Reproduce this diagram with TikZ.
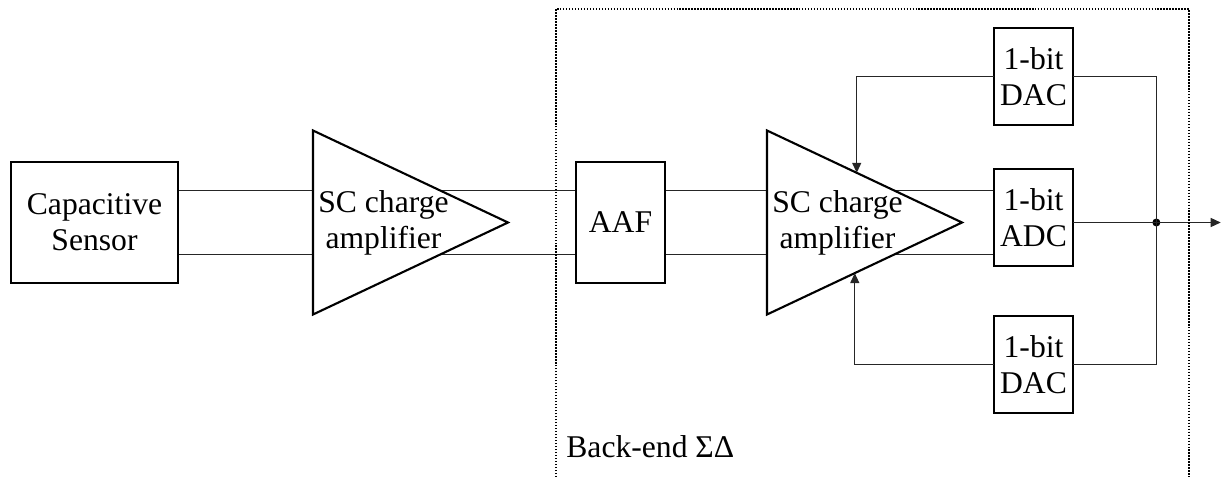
\documentclass[tikz,border=0pt]{standalone}
\usepackage{fontspec}
\setmainfont{Liberation Serif}
\usetikzlibrary{positioning,calc}
\usetikzlibrary{arrows.meta}
\usetikzlibrary{shapes.geometric}
\usetikzlibrary{backgrounds}
\tikzset{
   blk/.style={draw, line width=1.2pt, fill=white, align=center, inner sep=0pt,
      outer sep=0pt, font=\fontsize{18}{20.5}\selectfont},
   amp/.style={draw, line width=1.2pt, fill=white, isosceles triangle,
      isosceles triangle stretches, minimum width=3.68cm, minimum height=3.9cm,
      inner sep=0pt, outer sep=0pt},
   amptxt/.style={align=center, inner sep=0pt, font=\fontsize{18}{20.5}\selectfont},
   wire/.style={line width=0.7pt, draw=black!85},
   sig/.style={wire, -{Triangle[length=0.2cm,width=0.18cm]}},
   frame/.style={line width=1pt, dash pattern=on 0.85pt off 0.85pt},
}
\begin{document}
\begin{tikzpicture}
   \useasboundingbox (0,0) rectangle (24.48,-9.52);

   % sensor and first amplifier
   \node[blk, minimum width=3.34cm, minimum height=2.42cm] (sensor) at (1.89,-4.45)
      {Capacitive\\Sensor};
   \node[amp, right=2.7cm of sensor] (amp1) {};
   \node[amptxt, right=0.1cm of amp1.west] (amp1txt) {SC charge\\amplifier};

   % back-end
   \node[blk, minimum width=1.78cm, minimum height=2.42cm, right=1.36cm of amp1] (aaf) {AAF};
   \node[amp, right=2.04cm of aaf] (amp2) {};
   \node[amptxt, right=0.1cm of amp2.west] (amp2txt) {SC charge\\amplifier};

   \node[blk, minimum width=1.58cm, minimum height=1.94cm, right=0.64cm of amp2,
      yshift=0.1cm] (adc) {1-bit\\ADC};
   \node[blk, minimum width=1.58cm, minimum height=1.94cm, above=0.88cm of adc] (dac1)
      {1-bit\\DAC};
   \node[blk, minimum width=1.58cm, minimum height=1.94cm, below=1.0cm of adc] (dac2)
      {1-bit\\DAC};

   % output node
   \coordinate (adcout) at (adc.east |- amp2.east);
   \node[circle, fill, inner sep=0pt, minimum size=0.16cm, right=1.58cm of adcout] (dot) {};
   \coordinate[right=1.2cm of dot] (out);

   % feedback inputs on the amplifier
   \coordinate (fbin1) at ($(amp2.left corner)!0.46!(amp2.apex)$);
   \coordinate (fbin2) at ($(amp2.right corner)!0.45!(amp2.apex)$);

   % differential lines
   \begin{scope}[on background layer]
      \draw[wire] ([yshift=0.64cm]sensor.east) -- ([yshift=0.64cm]aaf.west);
      \draw[wire] ([yshift=-0.64cm]sensor.east) -- ([yshift=-0.64cm]aaf.west);
      \draw[wire] ([yshift=0.64cm]aaf.east) -- ([yshift=0.64cm]aaf.east -| adc.west);
      \draw[wire] ([yshift=-0.64cm]aaf.east) -- ([yshift=-0.64cm]aaf.east -| adc.west);
   \end{scope}

   \draw[sig] (dac1.west) -| (fbin1);
   \draw[sig] (dac2.west) -| (fbin2);
   \draw[wire] (dac1.east) -| (dot.center) |- (dac2.east);
   \draw[wire] (adcout) -- (dot.center);
   \draw[sig] (dot.center) -- (out);

   % back-end frame
   \draw[frame] (11.12,-9.6) |- (23.78,-0.18) -- (23.78,-9.6);
   \node[amptxt, anchor=base west] (backend) at (11.32,-9.14) {Back-end ΣΔ};
\end{tikzpicture}
\end{document}
